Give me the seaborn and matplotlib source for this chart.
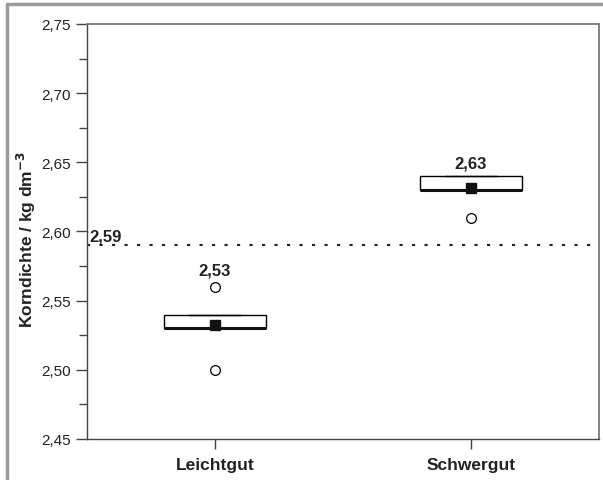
import numpy as np
import pandas as pd
import matplotlib
matplotlib.use("Agg")
import matplotlib.pyplot as plt
from matplotlib.lines import Line2D
from matplotlib.ticker import MultipleLocator, FuncFormatter
import seaborn as sns

# Korndichte samples per fraction
categories = ["Leichtgut", "Schwergut"]
leichtgut = [2.50, 2.53, 2.53, 2.53, 2.53, 2.54, 2.54, 2.56]
schwergut = [2.61, 2.63, 2.63, 2.63, 2.64, 2.64, 2.64]
reference_value = 2.59

df = pd.DataFrame({
    "Fraktion": [categories[0]] * len(leichtgut) + [categories[1]] * len(schwergut),
    "Korndichte": leichtgut + schwergut,
})

sns.set_theme(style="ticks")
plt.rcParams["font.family"] = ["Liberation Sans", "DejaVu Sans"]

def de_fmt(v, _=None):
    return f"{v:.2f}".replace(".", ",")

fig = plt.figure(figsize=(6.03, 4.81), dpi=100)
ax = fig.add_axes([87 / 603, 41 / 481, 512 / 603, 415 / 481])

sns.boxplot(
    data=df, x="Fraktion", y="Korndichte", order=categories, ax=ax,
    width=0.4, color="white", linecolor="black", linewidth=1.0,
    showmeans=True,
    meanprops=dict(marker="s", markerfacecolor="#111111", markeredgecolor="#111111", markersize=6.5),
    medianprops=dict(color="#111111", linewidth=2.2),
    flierprops=dict(marker="o", markerfacecolor="white", markeredgecolor="black",
                    markersize=7, markeredgewidth=0.9),
)

# dotted reference line
ax.axhline(reference_value, color="#222222", linewidth=1.5, linestyle=(0, (1.5, 4.5)))
ax.text(-0.49, reference_value + 0.001, de_fmt(reference_value), fontsize=12,
        fontweight="bold", color="#222222", ha="left", va="bottom")

# mean labels above the outliers / boxes
means = [np.mean(leichtgut), np.mean(schwergut)]
label_y = [2.5725, 2.6495]
for i, (m, ly) in enumerate(zip(means, label_y)):
    ax.text(i, ly, de_fmt(m), fontsize=12, fontweight="bold", color="#222222",
            ha="center", va="center")

ax.set_xlim(-0.5, 1.5)
ax.set_ylim(2.45, 2.75)
ax.yaxis.set_major_locator(MultipleLocator(0.05))
ax.yaxis.set_minor_locator(MultipleLocator(0.025))
ax.yaxis.set_major_formatter(FuncFormatter(de_fmt))

ax.set_xlabel("")
ax.set_ylabel("Korndichte / kg dm$^{\\mathbf{-3}}$", fontsize=12.5, fontweight="bold",
              color="#222222")
ax.yaxis.set_label_coords(-0.096, 0.484)
for lbl in ax.get_xticklabels():
    lbl.set_fontweight("bold")
ax.tick_params(axis="x", labelsize=12.5, length=7, width=1, color="#444444",
               labelcolor="#222222", pad=6)
ax.tick_params(axis="y", which="major", labelsize=11, length=8, width=1,
               color="#444444", labelcolor="#222222")
ax.tick_params(axis="y", which="minor", length=6, width=1, color="#444444")

for side in ["left", "bottom"]:
    ax.spines[side].set_color("#444444")
    ax.spines[side].set_linewidth(1.0)
for side in ["top", "right"]:
    ax.spines[side].set_visible(True)
    ax.spines[side].set_color("#777777")
    ax.spines[side].set_linewidth(1.3)

# grey frame around the figure (top and left edges visible)
fig.add_artist(Line2D([7 / 603, 1.0], [1 - 5 / 481, 1 - 5 / 481], transform=fig.transFigure,
                      color="#9a9a9a", linewidth=2.5))
fig.add_artist(Line2D([7 / 603, 7 / 603], [0, 1 - 5 / 481], transform=fig.transFigure,
                      color="#9a9a9a", linewidth=2.5))

fig.savefig("out.png", dpi=100)
